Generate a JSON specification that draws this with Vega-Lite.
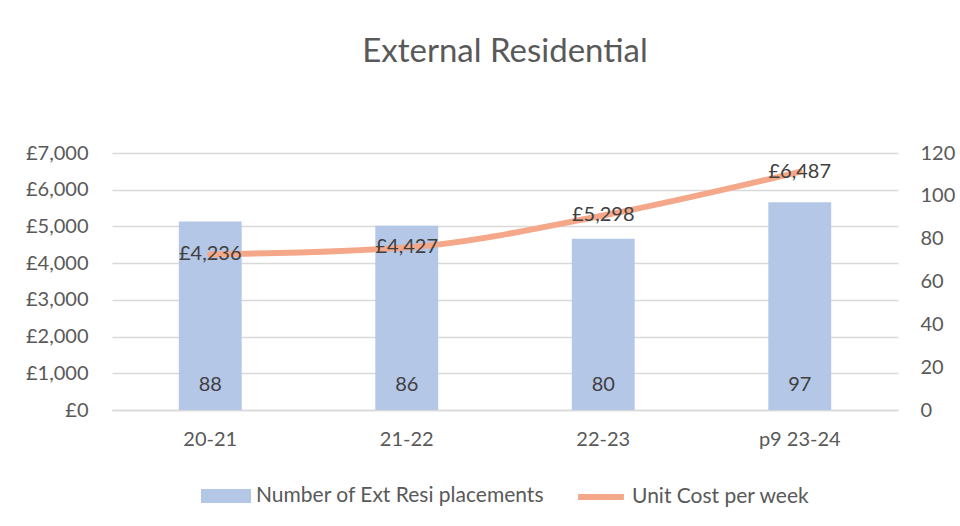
{
  "$schema": "https://vega.github.io/schema/vega-lite/v6.json",
  "width": 786,
  "height": 257,
  "padding": {"left": 25, "top": 36, "right": 10, "bottom": 10},
  "background": "white",
  "title": {"text": "External Residential", "fontSize": 33, "font": "Lato", "fontWeight": "normal", "color": "#595959", "offset": 74},
  "data": {"values": [
    {"period": "20-21", "placements": 88, "cost": 4236},
    {"period": "21-22", "placements": 86, "cost": 4427},
    {"period": "22-23", "placements": 80, "cost": 5298},
    {"period": "p9 23-24", "placements": 97, "cost": 6487}
  ]},
  "encoding": {
    "x": {"field": "period", "type": "nominal", "sort": null,
      "scale": {"paddingInner": 0.68, "paddingOuter": 0.34},
      "axis": {"title": null, "labelAngle": 0, "ticks": false, "domainColor": "#D9D9D9", "domainWidth": 1.5, "labelPadding": 19, "labelFontSize": 20, "labelColor": "#595959", "labelFont": "Lato"}}
  },
  "layer": [
    {
      "mark": {"type": "bar", "color": "#B4C7E7"},
      "encoding": {
        "y": {"field": "placements", "type": "quantitative", "scale": {"domain": [0, 120]},
          "axis": {"orient": "right", "title": null, "values": [0,20,40,60,80,100,120], "grid": false, "ticks": false, "domain": false, "labelPadding": 22, "labelFontSize": 20, "labelColor": "#595959", "labelFont": "Lato"}},
        "fill": {"datum": "Number of Ext Resi placements", "type": "nominal", "scale": {"range": ["#B4C7E7"]},
          "legend": {"orient": "bottom", "title": null, "offset": 22, "symbolType": "M-1,-0.28H1V0.28H-1Z", "symbolSize": 2500, "symbolStrokeWidth": 0, "labelFontSize": 21, "labelLimit": 500, "labelColor": "#595959", "labelFont": "Lato", "labelOffset": 5}}
      }
    },
    {
      "mark": {"type": "text", "fontSize": 20, "font": "Lato", "color": "#404040", "dy": -25},
      "encoding": {
        "y": {"datum": 0, "type": "quantitative", "scale": {"domain": [0, 120]}, "axis": null},
        "text": {"field": "placements", "type": "quantitative"}
      }
    },
    {
      "layer": [
        {
          "mark": {"type": "line", "interpolate": "monotone", "strokeWidth": 6, "color": "#F4A889", "strokeCap": "round"},
          "encoding": {
            "stroke": {"datum": "Unit Cost per week", "type": "nominal", "scale": {"range": ["#F4A889"]},
              "legend": {"orient": "bottom", "title": null, "offset": 22, "symbolType": "stroke", "symbolStrokeWidth": 6, "symbolSize": 2100, "labelFontSize": 21, "labelLimit": 500, "labelColor": "#595959", "labelFont": "Lato", "labelOffset": 5}}
          }
        },
        {
          "mark": {"type": "text", "fontSize": 20, "font": "Lato", "color": "#404040"},
          "encoding": {"text": {"field": "cost", "type": "quantitative", "format": "$,.0f"}}
        }
      ],
      "encoding": {
        "y": {"field": "cost", "type": "quantitative", "scale": {"domain": [0, 7000]},
          "axis": {"orient": "left", "title": null, "values": [0,1000,2000,3000,4000,5000,6000,7000], "format": "$,.0f", "grid": true, "gridColor": "#D9D9D9", "gridWidth": 1.5, "ticks": false, "domain": false, "labelPadding": 24, "labelFontSize": 20, "labelColor": "#595959", "labelFont": "Lato"}}
      }
    }
  ],
  "resolve": {"scale": {"y": "independent"}},
  "config": {
    "view": {"stroke": null},
    "locale": {"number": {"decimal": ".", "thousands": ",", "grouping": [3], "currency": ["£", ""]}},
    "legend": {"layout": {"bottom": {"anchor": "middle", "direction": "horizontal", "margin": 30}}}
  }
}
